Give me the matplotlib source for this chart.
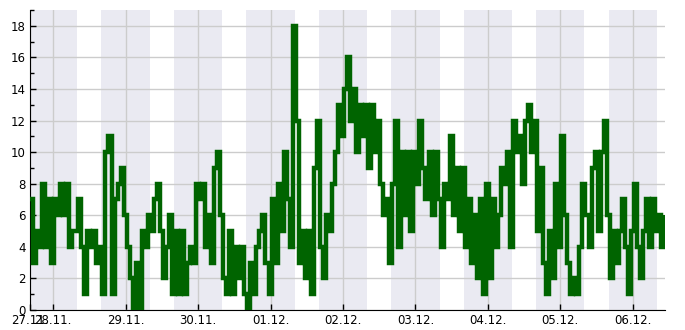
import matplotlib
matplotlib.use('Agg')
import matplotlib.pyplot as plt
import matplotlib.dates as mdates
import pandas as pd
from matplotlib.ticker import MultipleLocator


START = '2017-11-27 16:20'

# hourly readings, starting at START
readings = [
    7, 3, 5, 4, 8, 4, 7, 3, 7, 6, 8, 6, 8, 4, 5, 5, 7, 4, 1, 5, 4, 5, 3, 4,
    1, 10, 11, 1, 7, 8, 9, 6, 4, 2, 0, 3, 0, 5, 4, 6, 5, 7, 8, 5, 2, 4, 6, 1,
    5, 1, 5, 1, 3, 4, 3, 8, 7, 8, 4, 6, 3, 9, 10, 6, 2, 1, 5, 1, 4, 2, 4, 1,
    0, 3, 1, 4, 5, 6, 3, 1, 7, 3, 8, 5, 10, 7, 4, 18, 12, 3, 5, 2, 5, 1, 9, 12,
    4, 2, 6, 5, 8, 10, 13, 11, 14, 16, 12, 14, 10, 13, 11, 13, 9, 13, 10, 12, 8, 6, 7, 3,
    8, 12, 4, 10, 6, 10, 5, 10, 8, 12, 9, 7, 10, 6, 10, 7, 4, 8, 7, 11, 6, 9, 5, 9,
    4, 7, 3, 6, 2, 7, 1, 8, 2, 7, 4, 6, 9, 8, 10, 4, 12, 10, 11, 8, 12, 13, 10, 12,
    5, 9, 3, 1, 5, 2, 8, 4, 11, 6, 3, 1, 2, 1, 4, 8, 6, 4, 9, 10, 5, 10, 12, 6,
    2, 5, 3, 5, 7, 4, 1, 5, 8, 4, 2, 5, 7, 4, 7, 5, 6, 4, 6,
]

# shaded periods (16:00 - 08:00)
night_starts = ['2017-11-27', '2017-11-28', '2017-11-29', '2017-11-30', '2017-12-01',
                '2017-12-02', '2017-12-03', '2017-12-04', '2017-12-05']
day_ticks = ['2017-11-28', '2017-11-29', '2017-11-30', '2017-12-01', '2017-12-02',
             '2017-12-03', '2017-12-04', '2017-12-05', '2017-12-06']


def main():
    times = pd.date_range(START, periods=len(readings), freq='h')

    fig = plt.figure(figsize=(6.85, 3.3), dpi=100)
    ax = fig.add_axes([30 / 685, 20 / 330, 635 / 685, 300 / 330])

    for d in night_starts:
        t0 = pd.Timestamp(d) + pd.Timedelta(hours=16)
        ax.axvspan(t0, t0 + pd.Timedelta(hours=16), color='#eaeaf2', lw=0, zorder=0)

    ax.plot(times, readings, color='#006400', lw=3.2, drawstyle='steps-post',
            solid_joinstyle='miter', solid_capstyle='butt', zorder=3)

    ax.set_xlim(times[0], times[-1] + pd.Timedelta(minutes=20))
    ax.set_ylim(0, 19)

    ticks = [times[0]] + [pd.Timestamp(d) for d in day_ticks]
    ax.set_xticks(ticks)
    ax.xaxis.set_major_formatter(mdates.DateFormatter('%d.%m.'))
    ax.yaxis.set_major_locator(MultipleLocator(2))
    ax.yaxis.set_minor_locator(MultipleLocator(1))

    ax.grid(True, which='major', color='#cccccc', lw=1, zorder=1)
    ax.set_axisbelow(True)
    ax.tick_params(which='both', direction='in', length=4, width=1, labelsize=8.5, pad=3)
    ax.tick_params(which='minor', length=3)
    ax.spines['top'].set_visible(False)
    ax.spines['right'].set_visible(False)

    fig.savefig('out.png', dpi=100)


if __name__ == '__main__':
    main()
